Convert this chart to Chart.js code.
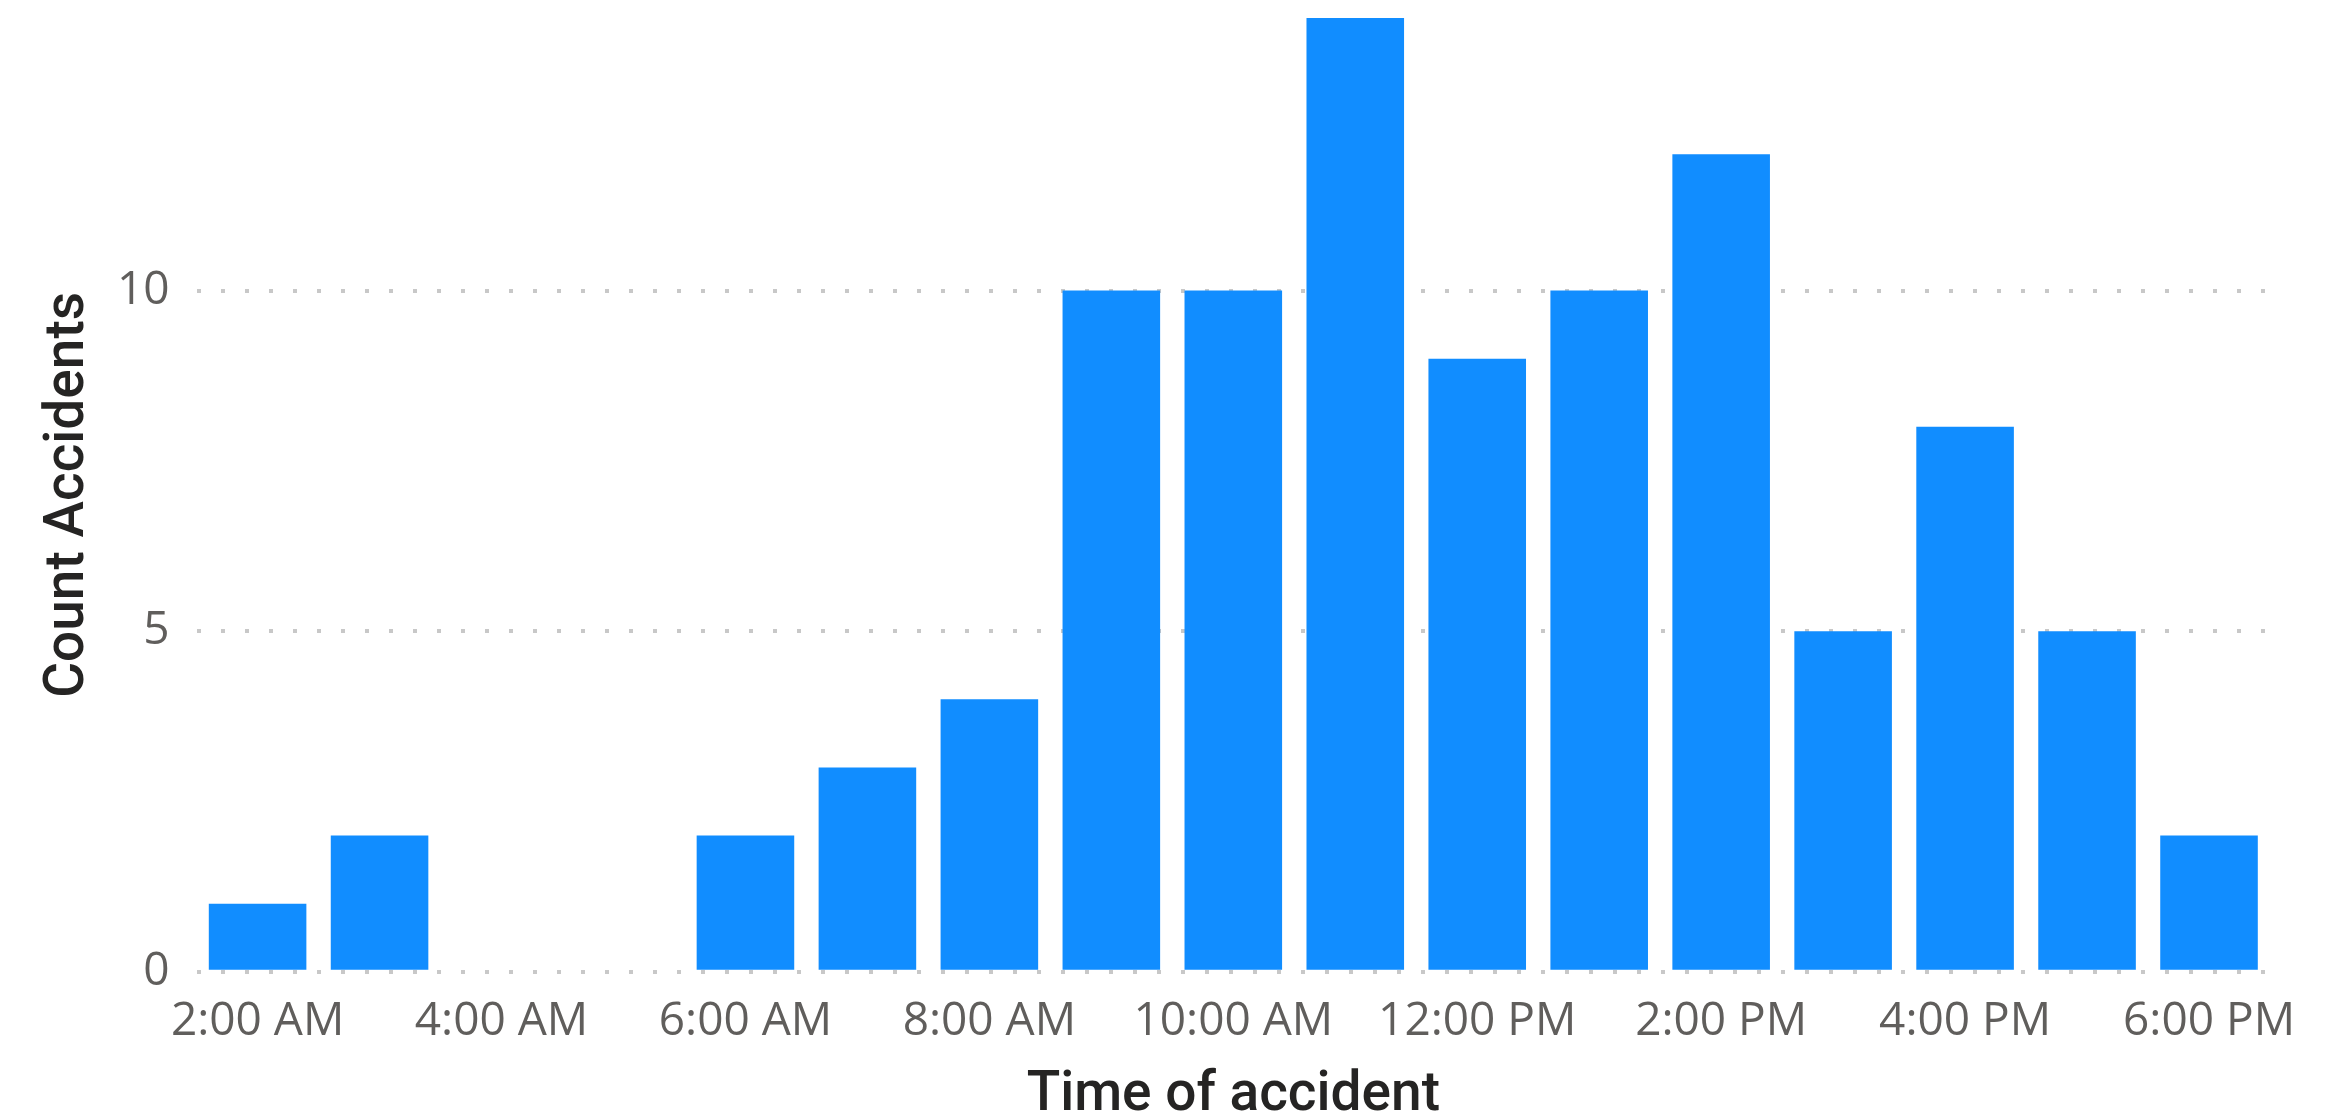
<!DOCTYPE html>
<html>
<head>
<meta charset="utf-8">
<script src="https://cdn.jsdelivr.net/npm/chart.js@4.4.1/dist/chart.umd.min.js"></script>
<style>
  html, body { margin: 0; padding: 0; background: #fff; }
  #wrap { width: 2336px; height: 1120px; position: relative; }
</style>
</head>
<body>
<div id="wrap"><canvas id="chart"></canvas></div>
<script>
const hours = [
  '2:00 AM', '3:00 AM', '4:00 AM', '5:00 AM', '6:00 AM', '7:00 AM', '8:00 AM', '9:00 AM',
  '10:00 AM', '11:00 AM', '12:00 PM', '1:00 PM', '2:00 PM', '3:00 PM', '4:00 PM', '5:00 PM', '6:00 PM',
];
const accidents = [1, 2, 0, 0, 2, 3, 4, 10, 10, 14, 9, 10, 12, 5, 8, 5, 2];
const yTicks = [0, 5, 10];

const colors = {
  bar: '#118DFF',
  grid: '#C8C8C8',
  tick: '#605E5C',
  title: '#252423',
};

const tickFont = { family: '"Open Sans", "Noto Sans", sans-serif', size: 46 };
const titleFont = { family: 'Roboto, "Noto Sans", sans-serif', size: 55, weight: '500', lineHeight: 1 };

new Chart(document.getElementById('chart'), {
  type: 'bar',
  data: {
    labels: hours,
    datasets: [{
      label: 'Count Accidents',
      data: accidents,
      backgroundColor: colors.bar,
      borderWidth: 0,
      categoryPercentage: 1,
      barPercentage: 0.8,
    }],
  },
  options: {
    responsive: true,
    maintainAspectRatio: false,
    animation: false,
    layout: { padding: { left: 42, right: 66, top: 18, bottom: 0 } },
    plugins: { legend: { display: false }, tooltip: { enabled: false } },
    scales: {
      x: {
        grid: { display: false },
        border: { display: false },
        ticks: {
          autoSkip: false,
          maxRotation: 0,
          color: colors.tick,
          font: tickFont,
          padding: 14,
          callback: (v, i) => (i % 2 === 0 ? hours[i] : ''),
        },
        title: {
          display: true,
          text: 'Time of accident',
          color: colors.title,
          font: titleFont,
          padding: { top: 6, bottom: -4 },
        },
      },
      y: {
        min: 0,
        max: 14,
        afterBuildTicks: axis => {
          axis.ticks = yTicks.map(value => ({ value }));
        },
        // top tick (10) sits well below the top edge, so no label room is needed there
        afterFit: axis => {
          axis.paddingTop = 0;
        },
        grid: {
          color: colors.grid,
          lineWidth: 4,
          drawTicks: false,
        },
        border: { display: false, dash: [4, 20] },
        ticks: {
          color: colors.tick,
          font: tickFont,
          padding: 27,
        },
        title: {
          display: true,
          text: 'Count Accidents',
          color: colors.title,
          font: titleFont,
          padding: { top: 0, bottom: -7 },
        },
      },
    },
  },
});
</script>
</body>
</html>
